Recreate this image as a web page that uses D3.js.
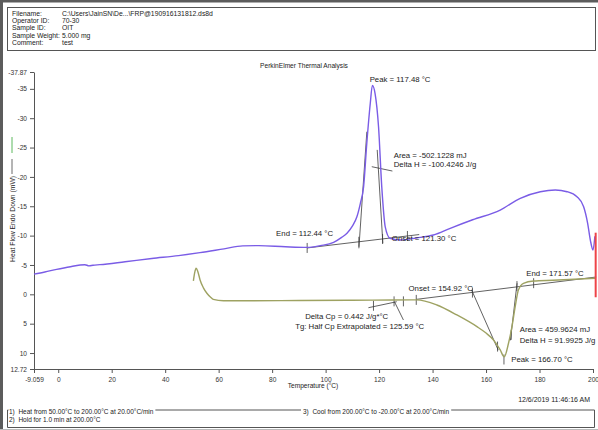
<!DOCTYPE html>
<html>
<head>
<meta charset="utf-8">
<script src="https://cdn.jsdelivr.net/npm/d3@7"></script>
<style>
  body { margin: 0; background: #fff; }
  svg { display: block; font-family: "Liberation Sans", Arial, sans-serif; }
  text { white-space: pre; }
</style>
</head>
<body>
<svg id="chart" width="598" height="430"></svg>
<script>
// heating run (purple), temperature in °C and heat flow in mW
const heatTemp = [-9.06, -5, -0.6, 4, 8.2, 10, 11.5, 13, 15.6, 25, 35, 45, 53, 62, 69, 75, 85, 93, 98, 103, 106, 108, 110, 111.7, 113, 114.2, 115.4, 116.7, 117.5, 118.5, 119.8, 121, 122.3, 124.1, 127.9, 134, 140.3, 146.6, 155, 165.3, 172.8, 180.3, 185.9, 190.3, 194, 196.5, 198, 199, 200, 200.7];
const heatFlow = [-3.45, -3.8, -4.26, -4.65, -5.0, -5.05, -4.85, -4.95, -5.05, -5.55, -6.1, -6.6, -7.1, -7.75, -8.25, -8.3, -8.1, -8.0, -8.3, -8.85, -9.7, -10.4, -11.6, -13.2, -15.5, -18.3, -25.7, -32.5, -35.6, -34.2, -28.5, -18.3, -11.5, -9.55, -9.26, -9.6, -10.1, -11.25, -12.7, -14.36, -16.36, -17.48, -17.77, -17.48, -16.63, -14.93, -12.1, -9.25, -7.55, -9.9];

// cooling run (green)
const coolTemp = [50.55, 51.0, 51.56, 52.2, 53.05, 54.3, 55.6, 57, 58, 61.8, 70, 90, 110, 125, 134, 141.6, 149.1, 156.6, 160, 162.8, 165.3, 166.8, 168.4, 169.7, 170.9, 172.1, 174, 177.8, 185, 201];
const coolFlow = [-2.3, -3.6, -4.45, -3.9, -2.45, -1.1, -0.18, 0.5, 0.85, 1.09, 1.1, 1.05, 1.0, 0.97, 0.95, 1.82, 3.52, 5.51, 6.6, 7.78, 9.48, 10.65, 8.34, 5.51, 2.11, -0.74, -1.88, -2.27, -2.4, -2.75];

// hold segment at 200 °C (red)
const holdSegment = [[201, -10.5], [201, 0.5]];

const xTicks = [-9.059, 0, 20, 40, 60, 80, 100, 120, 140, 160, 180, 200];
const yTicks = [-37.87, -35, -30, -25, -20, -15, -10, -5, 0, 5, 10, 12.72];

const headerLabels = ["Filename:", "Operator ID:", "Sample ID:", "Sample Weight:", "Comment:"];
const headerValues = ["C:\\Users\\JainSN\\De...\\FRP@190916131812.ds8d", "70-30", "OIT", "5.000 mg", "test"];
const methodSteps = ["1)  Heat from 50.00°C to 200.00°C at 20.00°C/min", "2)  Hold for 1.0 min at 200.00°C", "3)  Cool from 200.00°C to -20.00°C at 20.00°C/min"];

// analysis construction lines
const heatBaseline = [[93.1, -7.9], [135, -10.18]];
const heatTangents = [[[112.44, -7.84], [115.42, -27.7]], [[121.4, -8.7], [119.3, -24.6]]];
const heatTicks = [[93.1, -7.9], [112.44, -8.95], [121.3, -9.43], [130.6, -9.94]];
const heatLeader = [[117.27, -21.74], [124.98, -21.0]];

const coolBaseline = [[133.9, 0.86], [201.2, -2.95]];
const coolTgLine = [[116.0, 2.28], [126.6, 1.26]];
const coolTgLeader = [[125.75, 1.26], [129.1, 4.37]];
const coolTangents = [[[154.6, -0.74], [164.55, 9.5]], [[171.6, -1.88], [169.1, 7.84]]];
const coolTicks = [[117.9, 1.95], [125.6, 1.2], [129.1, 1.2], [133.9, 0.95], [154.92, -0.3], [164.3, 8.9], [169.4, 6.9], [171.57, -1.4], [177.8, -1.9], [166.7, 11.1]];

const annotations = [
  ["Peak = 117.48 °C", 116.47, -36.17],
  ["Area = -502.1228 mJ", 125.46, -23.22],
  ["Delta H = -100.4246 J/g", 125.46, -21.77],
  ["End = 112.44 °C", 81.49, -9.85],
  ["Onset = 121.30 °C", 124.77, -9.0],
  ["Onset = 154.92 °C", 131.0, -0.51],
  ["End = 171.57 °C", 175.03, -3.17],
  ["Delta Cp = 0.442 J/g*°C", 92.34, 4.15],
  ["Tg: Half Cp Extrapolated = 125.59 °C", 88.6, 5.86],
  ["Area = 459.9624 mJ", 172.6, 6.42],
  ["Delta H = 91.9925 J/g", 172.6, 8.29],
  ["Peak = 166.70 °C", 169.42, 11.58]
];

const svg = d3.select("#chart");

// outer window frame
svg.append("rect").attr("x", 0).attr("y", 0).attr("width", 3).attr("height", 430).attr("fill", "#5c5c5c");
svg.append("rect").attr("x", 0).attr("y", 0).attr("width", 598).attr("height", 2.5).attr("fill", "#5c5c5c");
svg.append("line").attr("x1", 0).attr("x2", 598).attr("y1", 429.5).attr("y2", 429.5).attr("stroke", "#bbb");

// header box
svg.append("rect").attr("x", 7.5).attr("y", 7.5).attr("width", 588).attr("height", 43)
  .attr("fill", "none").attr("stroke", "#555").attr("stroke-width", 1);
const header = svg.append("g").attr("font-size", 6.8).attr("fill", "#222");
headerLabels.forEach((t, i) => {
  header.append("text").attr("x", 12).attr("y", 15.8 + i * 7.3).text(t);
  header.append("text").attr("x", 62).attr("y", 15.8 + i * 7.3).text(headerValues[i]);
});

svg.append("text").attr("x", 304).attr("y", 68).attr("text-anchor", "middle")
  .attr("font-size", 6.6).attr("fill", "#222").text("PerkinElmer Thermal Analysis");

const x = d3.scaleLinear().domain([-9.059, 200]).range([34, 593]);
const y = d3.scaleLinear().domain([-37.87, 12.72]).range([72, 369]);

const fmt = v => String(v);

const xAxis = svg.append("g").attr("transform", "translate(0,369)")
  .call(d3.axisBottom(x).tickValues(xTicks).tickSize(4).tickSizeOuter(0).tickFormat(fmt));
const yAxis = svg.append("g").attr("transform", "translate(34,0)")
  .call(d3.axisLeft(y).tickValues(yTicks).tickSize(4).tickSizeOuter(0).tickFormat(fmt));
[xAxis, yAxis].forEach(a => {
  a.select(".domain").attr("stroke", "#555");
  a.selectAll(".tick line").attr("stroke", "#555");
  a.selectAll(".tick text").attr("font-size", 6.6).attr("fill", "#333").attr("font-family", null);
});
xAxis.selectAll(".tick text").attr("dy", "0.9em");

svg.append("text").attr("x", 313).attr("y", 388).attr("text-anchor", "middle")
  .attr("font-size", 6.6).attr("fill", "#222").text("Temperature (°C)");

// y label with legend strokes
svg.append("text").attr("transform", "translate(14.5,262) rotate(-90)")
  .attr("font-size", 6.8).attr("fill", "#222").text("Heat Flow Endo Down (mW)");
svg.append("line").attr("x1", 12).attr("x2", 12).attr("y1", 174).attr("y2", 159).attr("stroke", "#444").attr("stroke-width", 0.8);
svg.append("line").attr("x1", 12).attr("x2", 12).attr("y1", 153).attr("y2", 137).attr("stroke", "#5cb85c").attr("stroke-width", 1);

const line = d3.line().x(d => x(d[0])).y(d => y(d[1])).curve(d3.curveMonotoneX);
const seg = d3.line().x(d => x(d[0])).y(d => y(d[1]));

// construction lines
const cons = svg.append("g").attr("stroke", "#3a3a3a").attr("stroke-width", 0.8).attr("fill", "none");
[heatBaseline, heatLeader, coolBaseline, coolTgLine, coolTgLeader, ...heatTangents, ...coolTangents]
  .forEach(s => cons.append("path").attr("d", seg(s)));
[...heatTicks, ...coolTicks].forEach(d => {
  cons.append("line").attr("x1", x(d[0])).attr("x2", x(d[0]))
    .attr("y1", y(d[1]) - 5).attr("y2", y(d[1]) + 5);
});

// curves
svg.append("path").datum(heatTemp.map((t, i) => [t, heatFlow[i]]))
  .attr("d", line).attr("fill", "none").attr("stroke", "#7a5ce6").attr("stroke-width", 1.4);
svg.append("path").datum(coolTemp.map((t, i) => [t, coolFlow[i]]))
  .attr("d", line).attr("fill", "none").attr("stroke", "#9ea262").attr("stroke-width", 1.4);
svg.append("path").attr("d", seg(holdSegment)).attr("stroke", "#ee4448").attr("stroke-width", 2);

// annotation texts
const ann = svg.append("g").attr("font-size", 7.8).attr("fill", "#222");
annotations.forEach(a => {
  ann.append("text").attr("x", x(a[1])).attr("y", y(a[2])).text(a[0]);
});

// footer
svg.append("text").attr("x", 590).attr("y", 402).attr("text-anchor", "end")
  .attr("font-size", 7).attr("fill", "#222").text("12/6/2019 11:46:16 AM");
const foot = svg.append("g").attr("font-size", 6.5).attr("fill", "#222");
const t1 = foot.append("text").attr("x", 9).attr("y", 413.5).text(methodSteps[0]);
foot.append("text").attr("x", 9).attr("y", 421.5).text(methodSteps[1]);
const t3 = foot.append("text").attr("x", 303).attr("y", 413.5).text(methodSteps[2]);
const e1 = 9 + t1.node().getComputedTextLength() + 2;
const e3 = 303 + t3.node().getComputedTextLength() + 2;
const box = svg.append("g").attr("stroke", "#555").attr("stroke-width", 1).attr("fill", "none");
box.append("path").attr("d", `M7.5,410 L7.5,427.5 L594.5,427.5 L594.5,410 L${e3},410`);
box.append("path").attr("d", `M${e1},410 L301,410`);
box.append("path").attr("d", "M7.5,410 L8.5,410");
</script>
</body>
</html>
